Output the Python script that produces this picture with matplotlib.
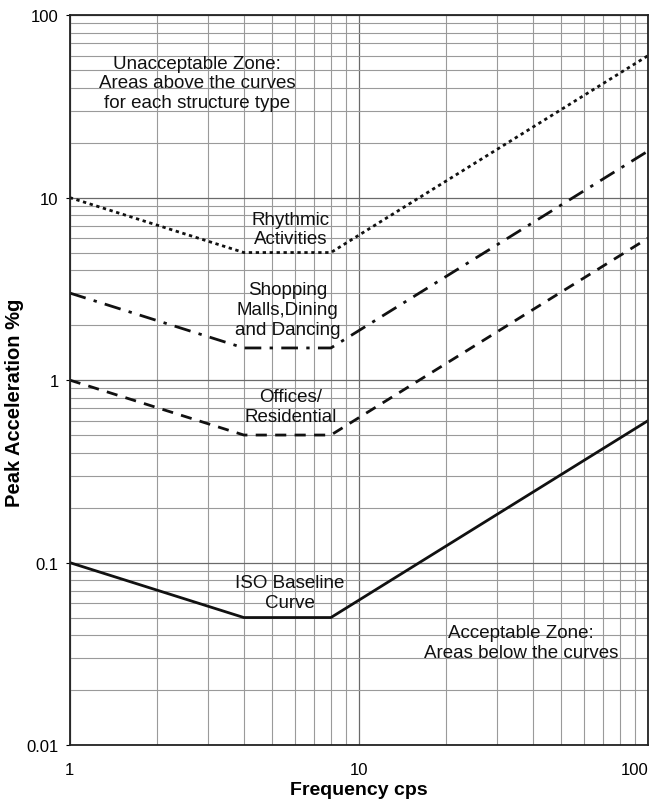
import matplotlib
matplotlib.use("Agg")
import matplotlib.pyplot as plt
import numpy as np

plt.rcParams['font.family'] = ['Liberation Sans', 'DejaVu Sans']

# Data (frequency in cps, peak acceleration in %g)
freq = [1, 4, 8, 100]
iso_baseline = [0.1, 0.05, 0.05, 0.6]
offices = [1.0, 0.5, 0.5, 6.0]
shopping = [3.0, 1.5, 1.5, 18.0]
rhythmic = [10.0, 5.0, 5.0, 60.0]

x_ticks = [1, 10, 100]
x_tick_labels = ["1", "10", "100"]
y_ticks = [0.01, 0.1, 1, 10, 100]
y_tick_labels = ["0.01", "0.1", "1", "10", "100"]

fig = plt.figure(figsize=(6.58, 8.04), dpi=100)
ax = fig.add_axes([0.106, 0.072, 0.879, 0.908])
ax.set_xscale('log')
ax.set_yscale('log')
ax.set_xlim(1, 100)
ax.set_ylim(0.01, 100)

ax.grid(True, which='major', color='#6a6a6a', linewidth=0.9)
ax.grid(True, which='minor', color='#9a9a9a', linewidth=0.8)
ax.set_axisbelow(True)

ax.plot(freq, rhythmic, color='#111111', lw=2.0, linestyle=(0, (1.2, 1.3)))
ax.plot(freq, shopping, color='#111111', lw=2.0, linestyle=(0, (6, 3, 1.2, 3)))
ax.plot(freq, offices, color='#111111', lw=2.0, linestyle=(0, (4, 3)))
ax.plot(freq, iso_baseline, color='#111111', lw=2.0, linestyle='-')

ax.set_xticks(x_ticks)
ax.set_xticklabels(x_tick_labels)
ax.set_yticks(y_ticks)
ax.set_yticklabels(y_tick_labels)
ax.tick_params(axis='x', which='both', length=0, pad=12, labelsize=12)
ax.tick_params(axis='y', which='major', length=3, pad=5, labelsize=12)
ax.tick_params(axis='y', which='minor', length=0)
xl = ax.get_xticklabels()
xl[-1].set_horizontalalignment('right')
for s in ax.spines.values():
    s.set_color('#222222')
    s.set_linewidth(1.3)

ax.set_xlabel('Frequency cps', fontsize=14, fontweight='bold')
ax.xaxis.set_label_coords(0.5, -0.049)
ax.set_ylabel('Peak Acceleration %g', fontsize=14.5, fontweight='bold')
ax.yaxis.set_label_coords(-0.079, 0.47)

tk = dict(transform=ax.transAxes, ha='center', va='center', fontsize=13.5,
          linespacing=1.22, color='#111111')
ax.text(0.22, 0.907, "Unacceptable Zone:\nAreas above the curves\nfor each structure type", **tk)
ax.text(0.382, 0.707, "Rhythmic\nActivities", **tk)
ax.text(0.377, 0.597, "Shopping\nMalls,Dining\nand Dancing", **tk)
ax.text(0.382, 0.464, "Offices/\nResidential", **tk)
ax.text(0.381, 0.209, "ISO Baseline\nCurve", **tk)
ax.text(0.780, 0.140, "Acceptable Zone:\nAreas below the curves", **tk)

fig.savefig("out.png", dpi=100)
